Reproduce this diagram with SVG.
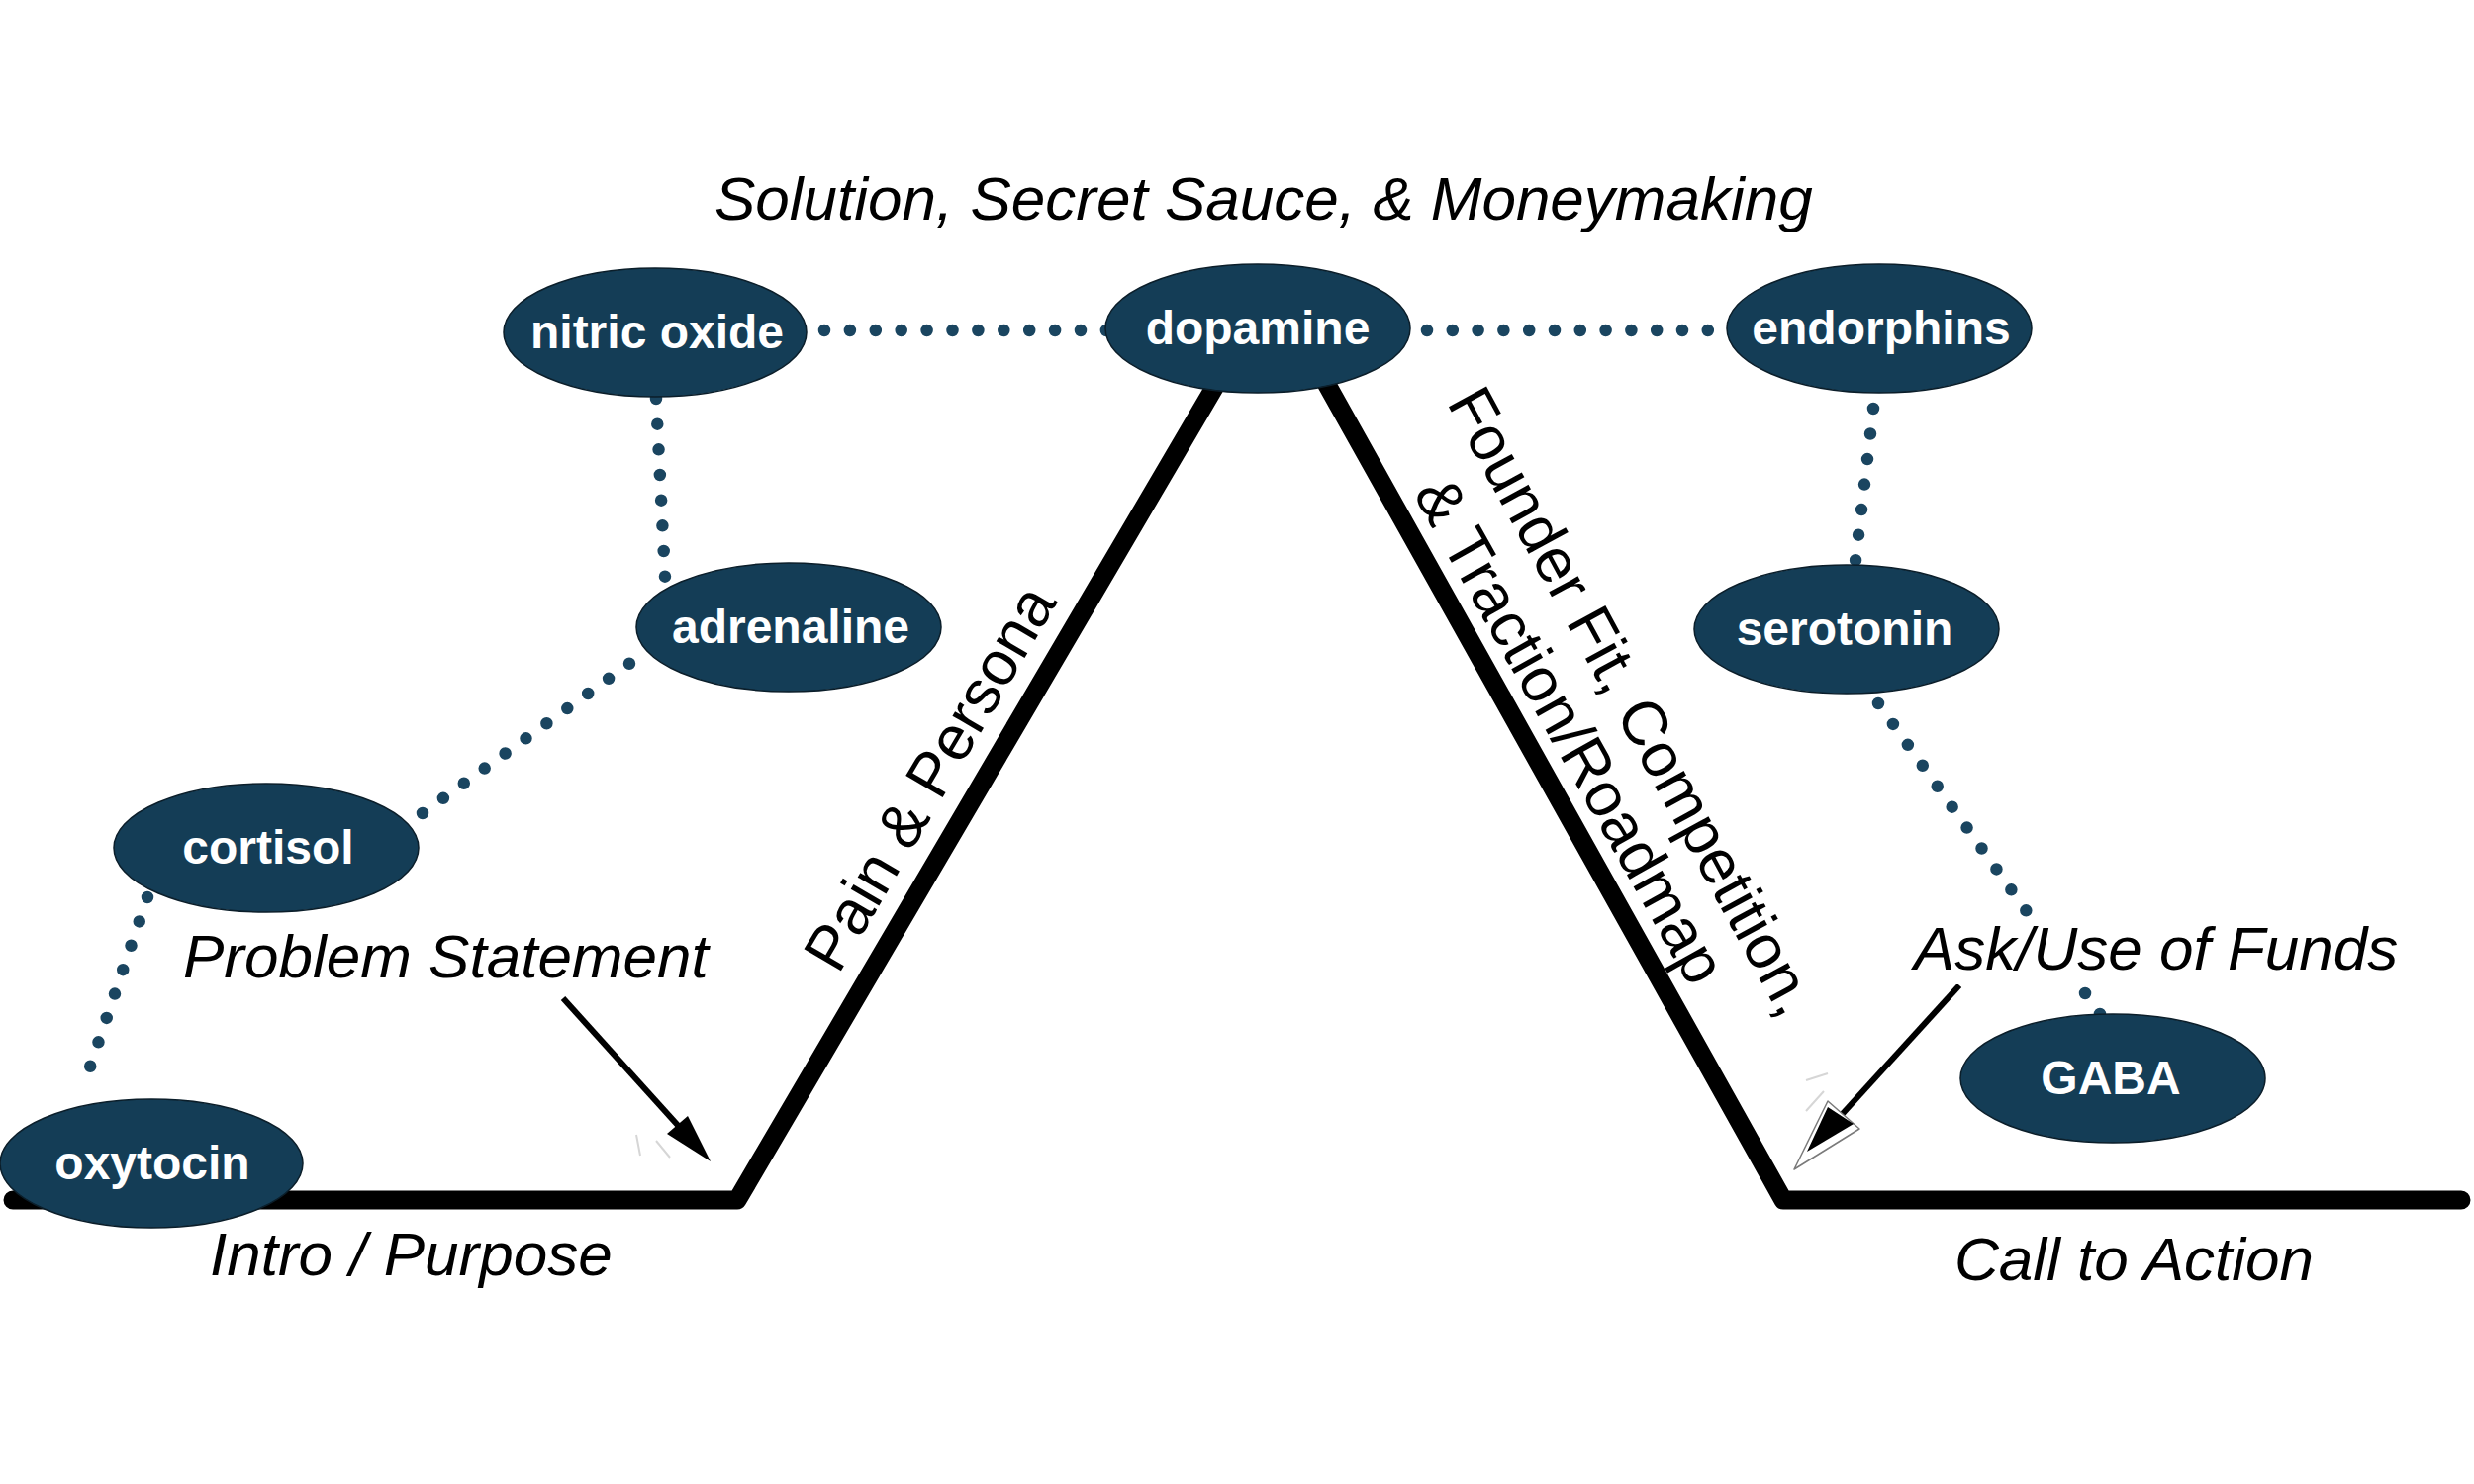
<svg xmlns="http://www.w3.org/2000/svg" width="2500" height="1500" viewBox="0 0 2500 1500">
  <style>
    .node ellipse { fill: #143d56; stroke: #0b1e2a; stroke-width: 1.5; }
    .node text { font-family: "Liberation Sans", Arial, sans-serif; font-weight: bold; font-size: 48px; fill: #ffffff; text-anchor: middle; }
    .dots { fill: none; stroke: #1a4560; stroke-width: 12.5; stroke-linecap: round; }
    .label { font-family: "Liberation Sans", Arial, sans-serif; font-style: italic; font-size: 62px; fill: #000000; }
    .slope { font-family: "Liberation Sans", Arial, sans-serif; font-size: 63px; fill: #000000; }
    .path { fill: none; stroke: #000000; stroke-width: 19; stroke-linecap: round; stroke-linejoin: round; }
    .arrow { fill: none; stroke: #000000; stroke-width: 6; }
    .speck { fill: none; stroke: #d6d6d6; stroke-width: 2; }
  </style>
  <rect width="2500" height="1500" fill="#ffffff"/>

  <!-- main journey path -->
  <g id="journey">
    <polyline class="path" points="13,1213 745,1213 1234,380"/>
    <polyline class="path" points="1336,380 1802,1213 2487,1213"/>
  </g>

  <!-- connectors -->
  <g id="connectors">
    <path class="dots" stroke-dasharray="0 25.9" d="M833,334 L1118,334"/>
    <path class="dots" stroke-dasharray="0 25.8" d="M1442,334 L1752,334"/>
    <path class="dots" stroke-dasharray="0 25.7" d="M663,403 L672,583"/>
    <path class="dots" stroke-dasharray="0 25.8" d="M427,822 L637,670"/>
    <path class="dots" stroke-dasharray="0 25.75" d="M149,907 L83,1102"/>
    <path class="dots" stroke-dasharray="0 25.7" d="M1893,413 L1875,567"/>
    <path class="dots" stroke-dasharray="0 25.71" d="M1898,711 L2122,1025"/>

    <!-- arrow to Problem Statement corner -->
    <line class="arrow" x1="569" y1="1009" x2="690" y2="1143"/>
    <polygon points="718,1174 674,1146 695,1128" fill="#000000"/>

    <!-- arrow to Ask/Use of Funds corner -->
    <line class="arrow" x1="1980" y1="996" x2="1858" y2="1130"/>
    <polygon points="1813,1182 1847,1113 1879,1141" fill="#ffffff" stroke="#7a7a7a" stroke-width="1.5" stroke-linejoin="round"/>
    <polygon points="1826,1164 1847,1119 1873,1136" fill="#000000"/>

    <!-- faint specks -->
    <line class="speck" x1="643" y1="1147" x2="647" y2="1168"/>
    <line class="speck" x1="663" y1="1153" x2="677" y2="1170"/>
    <line class="speck" x1="1825" y1="1092" x2="1847" y2="1085"/>
    <line class="speck" x1="1825" y1="1123" x2="1843" y2="1103"/>
  </g>

  <!-- labels -->
  <g id="labels">
    <text class="label" x="722" y="222">Solution, Secret Sauce, &amp; Moneymaking</text>
    <text class="label" x="185" y="988">Problem Statement</text>
    <text class="label" x="212" y="1289">Intro / Purpose</text>
    <rect x="1930" y="928" width="495" height="67" fill="#ffffff"/>
    <text class="label" x="1934" y="980">Ask/Use of Funds</text>
    <text class="label" x="1975" y="1294">Call to Action</text>
    <text class="slope" text-anchor="middle" transform="translate(958,797) rotate(-59.6)">Pain &amp; Persona</text>
    <text class="slope" text-anchor="middle" transform="translate(1631,719) rotate(61.5)">Founder Fit, Competition,</text>
    <text class="slope" text-anchor="middle" transform="translate(1568,749) rotate(60.7)">&amp; Traction/Roadmap</text>
  </g>

  <!-- nodes -->
  <g id="node-nitric-oxide" class="node">
    <ellipse cx="662" cy="336" rx="153" ry="65"/>
    <text x="664" y="352">nitric oxide</text>
  </g>
  <g id="node-dopamine" class="node">
    <ellipse cx="1271" cy="332" rx="154" ry="65"/>
    <text x="1271" y="348">dopamine</text>
  </g>
  <g id="node-endorphins" class="node">
    <ellipse cx="1899" cy="332" rx="154" ry="65"/>
    <text x="1901" y="348">endorphins</text>
  </g>
  <g id="node-adrenaline" class="node">
    <ellipse cx="797" cy="634" rx="154" ry="65"/>
    <text x="799" y="650">adrenaline</text>
  </g>
  <g id="node-serotonin" class="node">
    <ellipse cx="1866" cy="636" rx="154" ry="65"/>
    <text x="1864" y="652">serotonin</text>
  </g>
  <g id="node-cortisol" class="node">
    <ellipse cx="269" cy="857" rx="154" ry="65"/>
    <text x="271" y="873">cortisol</text>
  </g>
  <g id="node-oxytocin" class="node">
    <ellipse cx="153" cy="1176" rx="153" ry="65"/>
    <text x="154" y="1192">oxytocin</text>
  </g>
  <g id="node-gaba" class="node">
    <ellipse cx="2135" cy="1090" rx="154" ry="65"/>
    <text x="2133" y="1106">GABA</text>
  </g>
</svg>
